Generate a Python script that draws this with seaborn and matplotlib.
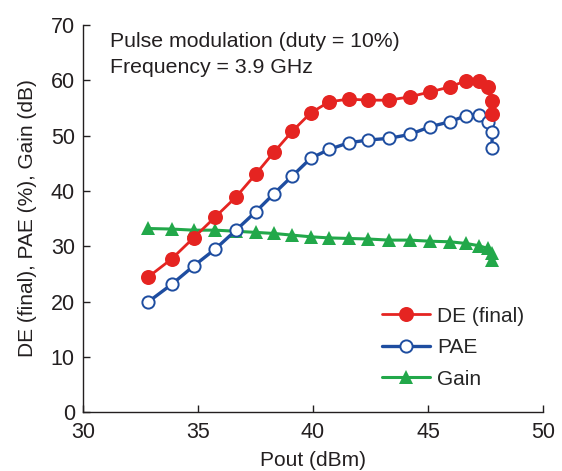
import pandas as pd
import numpy as np
import matplotlib
matplotlib.use("Agg")
import matplotlib.pyplot as plt
import seaborn as sns

sns.set_style("ticks")
plt.rcParams['font.family'] = ['Liberation Sans', 'DejaVu Sans']

# Data
pout = [32.82, 33.85, 34.8, 35.75, 36.65, 37.5, 38.3, 39.1, 39.9, 40.7, 41.55,
        42.4, 43.3, 44.2, 45.1, 45.95, 46.65, 47.2, 47.6, 47.8, 47.78]
de = [24.4, 27.7, 31.5, 35.3, 38.9, 43.0, 47.0, 50.8, 54.1, 56.1, 56.6,
      56.4, 56.4, 57.0, 57.9, 58.8, 59.9, 59.9, 58.8, 56.2, 53.9]
pae = [19.9, 23.1, 26.4, 29.5, 32.9, 36.2, 39.5, 42.7, 45.9, 47.5, 48.7,
       49.2, 49.5, 50.2, 51.6, 52.5, 53.6, 53.8, 52.5, 50.7, 47.8]
gain = [33.2, 33.1, 32.9, 32.9, 32.7, 32.5, 32.3, 32.0, 31.7, 31.5, 31.4,
        31.3, 31.1, 31.1, 30.9, 30.8, 30.5, 30.1, 29.6, 28.7, 27.5]

df = pd.DataFrame({'Pout': pout, 'DE': de, 'PAE': pae, 'Gain': gain})

red = '#E52421'
blue = '#1E4DA0'
green = '#22A84A'
ink = '#231F20'

fig = plt.figure(figsize=(5.62, 4.71), dpi=100)
ax = fig.add_axes([0.148, 0.125, 0.818, 0.822])

# Gain drawn first so it sits under the others
sns.lineplot(data=df, x='Pout', y='Gain', ax=ax, sort=False, estimator=None,
             color=green, lw=2.2, marker='^', markersize=10, markeredgewidth=0,
             label='Gain', zorder=2)
sns.lineplot(data=df, x='Pout', y='PAE', ax=ax, sort=False, estimator=None,
             color=blue, lw=2.4, marker='o', markersize=8.8, markerfacecolor='white',
             markeredgecolor=blue, markeredgewidth=1.4, label='PAE', zorder=3)
sns.lineplot(data=df, x='Pout', y='DE', ax=ax, sort=False, estimator=None,
             color=red, lw=2.0, marker='o', markersize=10.8, markeredgewidth=0,
             label='DE (final)', zorder=4)

ax.set_xlim(30, 50)
ax.set_ylim(0, 70)
ax.set_xticks([30, 35, 40, 45, 50])
ax.set_yticks(range(0, 71, 10))
ax.tick_params(direction='in', length=5, width=1, labelsize=15.5, colors=ink)
ax.tick_params(axis='x', pad=7)
ax.tick_params(axis='y', pad=6)
sns.despine(ax=ax)
for s in ['left', 'bottom']:
    ax.spines[s].set_linewidth(1)
    ax.spines[s].set_color(ink)

ax.set_xlabel('Pout (dBm)', fontsize=15, labelpad=6, color=ink)
ax.set_ylabel('DE (final), PAE (%), Gain (dB)', fontsize=15, labelpad=10, color=ink)

ax.text(0.058, 0.956, 'Pulse modulation (duty = 10%)', transform=ax.transAxes,
        fontsize=15.3, va='center', color=ink)
ax.text(0.058, 0.891, 'Frequency = 3.9 GHz', transform=ax.transAxes,
        fontsize=15.3, va='center', color=ink)

handles, labels = ax.get_legend_handles_labels()
order = [labels.index('DE (final)'), labels.index('PAE'), labels.index('Gain')]
ax.legend([handles[i] for i in order], [labels[i] for i in order],
          frameon=False, loc='lower right', bbox_to_anchor=(1.0, 0.012),
          fontsize=15, handlelength=2.3, labelspacing=0.6, handletextpad=0.35)

fig.savefig('out.png', dpi=100)
